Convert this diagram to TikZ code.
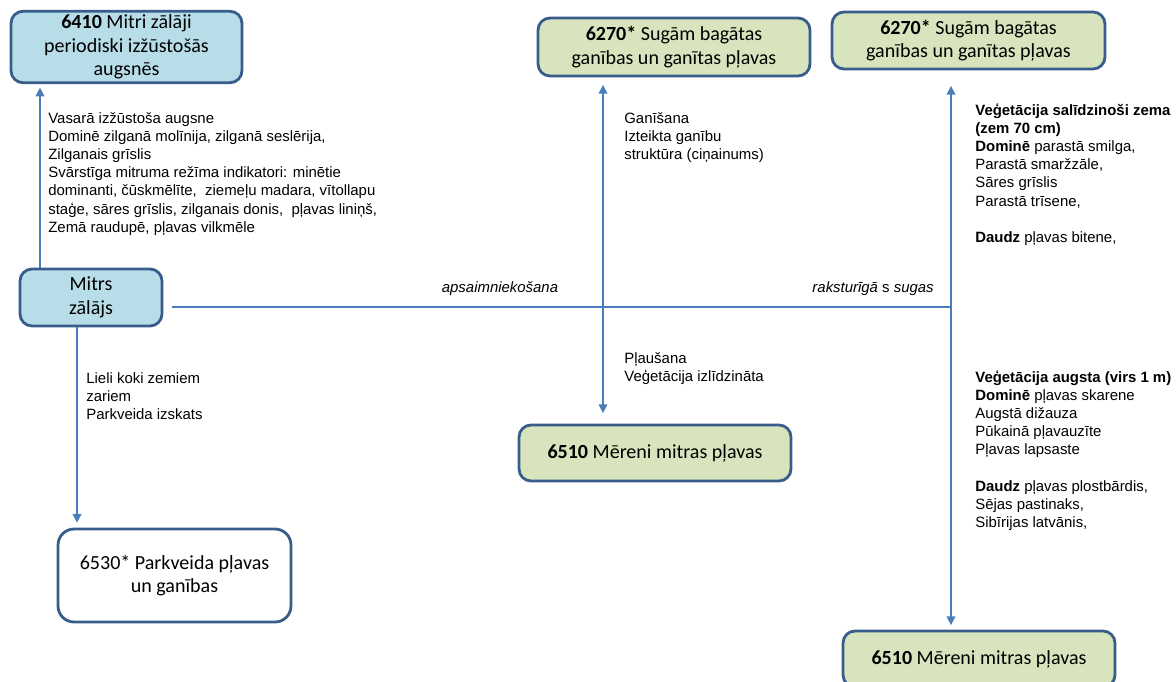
\documentclass[tikz,border=0pt]{standalone}
\usepackage{fontspec}
\setmainfont{Liberation Sans}
\newfontfamily\calibri{Carlito}
\usetikzlibrary{arrows.meta,positioning}
\definecolor{boxborder}{RGB}{56,93,138}
\definecolor{meadowblue}{RGB}{183,221,232}
\definecolor{meadowgreen}{RGB}{215,228,189}
\definecolor{linkblue}{RGB}{74,126,187}

\begin{document}
\begin{tikzpicture}[
        x=0.02cm, y=-0.02cm,
        habitat/.style={draw=boxborder, fill=#1, line width=1.6pt, rounded corners=0.24cm, align=center,
            inner sep=2pt, font=\calibri\fontsize{11.4}{13.4}\selectfont},
        note/.style={anchor=north west, inner sep=0pt, align=left, font=\fontsize{8.5}{10.25}\selectfont},
        tag/.style={inner sep=0pt, font=\fontsize{8.5}{10.25}\selectfont},
        link/.style={linkblue, line width=0.8pt},
        arrow/.style={link, -{Triangle[length=5pt, width=5pt]}},
        twoway/.style={link, {Triangle[length=5pt, width=5pt]}-{Triangle[length=5pt, width=5pt]}}
    ]
        \useasboundingbox (0,0) rectangle (1176,682);

        % Habitat boxes
        \node[habitat=meadowblue, minimum width=4.62cm, minimum height=1.40cm] (h6410) at (126.5,47) {\textbf{6410} Mitri zālāji\\periodiski izžūstošās\\augsnēs};
        \node[habitat=meadowblue, minimum width=2.84cm, minimum height=1.14cm] (mitrs) at (91,297.5) {Mitrs\\zālājs};
        \node[habitat=white, minimum width=4.66cm, minimum height=1.86cm, rounded corners=0.32cm] (h6530) at (174.5,575.5) {6530* Parkveida pļavas\\un ganības};
        \node[habitat=meadowgreen, minimum width=5.44cm, minimum height=1.16cm] (h6270a) at (674,47) {\textbf{6270*} Sugām bagātas\\ganības un ganītas pļavas};
        \node[habitat=meadowgreen, minimum width=5.44cm, minimum height=1.12cm] (h6510a) at (655,453) {\textbf{6510} Mēreni mitras pļavas};
        \node[habitat=meadowgreen, minimum width=5.46cm, minimum height=1.14cm] (h6270b) at (968.5,40.5) {\textbf{6270*} Sugām bagātas\\ganības un ganītas pļavas};
        \node[habitat=meadowgreen, minimum width=5.44cm, minimum height=1.12cm] (h6510b) at (979,659) {\textbf{6510} Mēreni mitras pļavas};

        % Connectors
        \coordinate (upL) at (40,0);
        \coordinate (dnL) at (77,0);
        \coordinate (midV) at (603,0);
        \coordinate (junR) at (951,307);
        \draw[arrow, shorten >=2pt] (mitrs.north -| upL) -- (h6410.south -| upL);
        \draw[arrow, shorten >=2.8pt] (mitrs.south -| dnL) -- (h6530.north -| dnL);
        \draw[link, shorten <=0.18cm] (mitrs.east |- junR) -- (junR);
        \draw[twoway, shorten <=0.15cm, shorten >=0.21cm] (h6270a.south -| midV) -- (h6510a.north -| midV);
        \draw[twoway, shorten <=0.31cm, shorten >=0.09cm] (h6270b.south -| junR) -- (h6510b.north -| junR);

        % Labels on the main line
        \node[tag] (tManage) at (500,289) {\textit{apsaimniekošana}};
        \node[tag, anchor=east] (tTypical) at (934,289) {\textit{raksturīgā} s \textit{sugas}};

        % Notes
        \node[note] (nDry) at (48,111) {\strut Vasarā izžūstoša augsne\\Dominē zilganā molīnija, zilganā seslērija,\\Zilganais grīslis\\Svārstīga mitruma režīma indikatori: minētie\\dominanti, čūskmēlīte,\ \ ziemeļu madara, vītollapu\\staģe, sāres grīslis, zilganais donis,\ \ pļavas liniņš,\\Zemā raudupē, pļavas vilkmēle};
        \node[note] (nPark) at (86,371) {\strut Lieli koki zemiem\\zariem\\Parkveida izskats};
        \node[note] (nGraze) at (624,111) {\strut Ganīšana\\Izteikta ganību\\struktūra (ciņainums)};
        \node[note] (nMow) at (624,351) {\strut Pļaušana\\Veģetācija izlīdzināta};
        \node[note] (nLow) at (975,103) {\strut\textbf{Veģetācija salīdzinoši zema}\\\textbf{(zem 70 cm)}\\\textbf{Dominē} parastā smilga,\\Parastā smaržzāle,\\Sāres grīslis\\Parastā trīsene,\\[10.25pt]\textbf{Daudz} pļavas bitene,};
        \node[note] (nHigh) at (975,370) {\strut\textbf{Veģetācija augsta (virs 1 m)}\\\textbf{Dominē} pļavas skarene\\Augstā dižauza\\Pūkainā pļavauzīte\\Pļavas lapsaste\\[10.25pt]\textbf{Daudz} pļavas plostbārdis,\\Sējas pastinaks,\\Sibīrijas latvānis,};

    \end{tikzpicture}
\end{document}
